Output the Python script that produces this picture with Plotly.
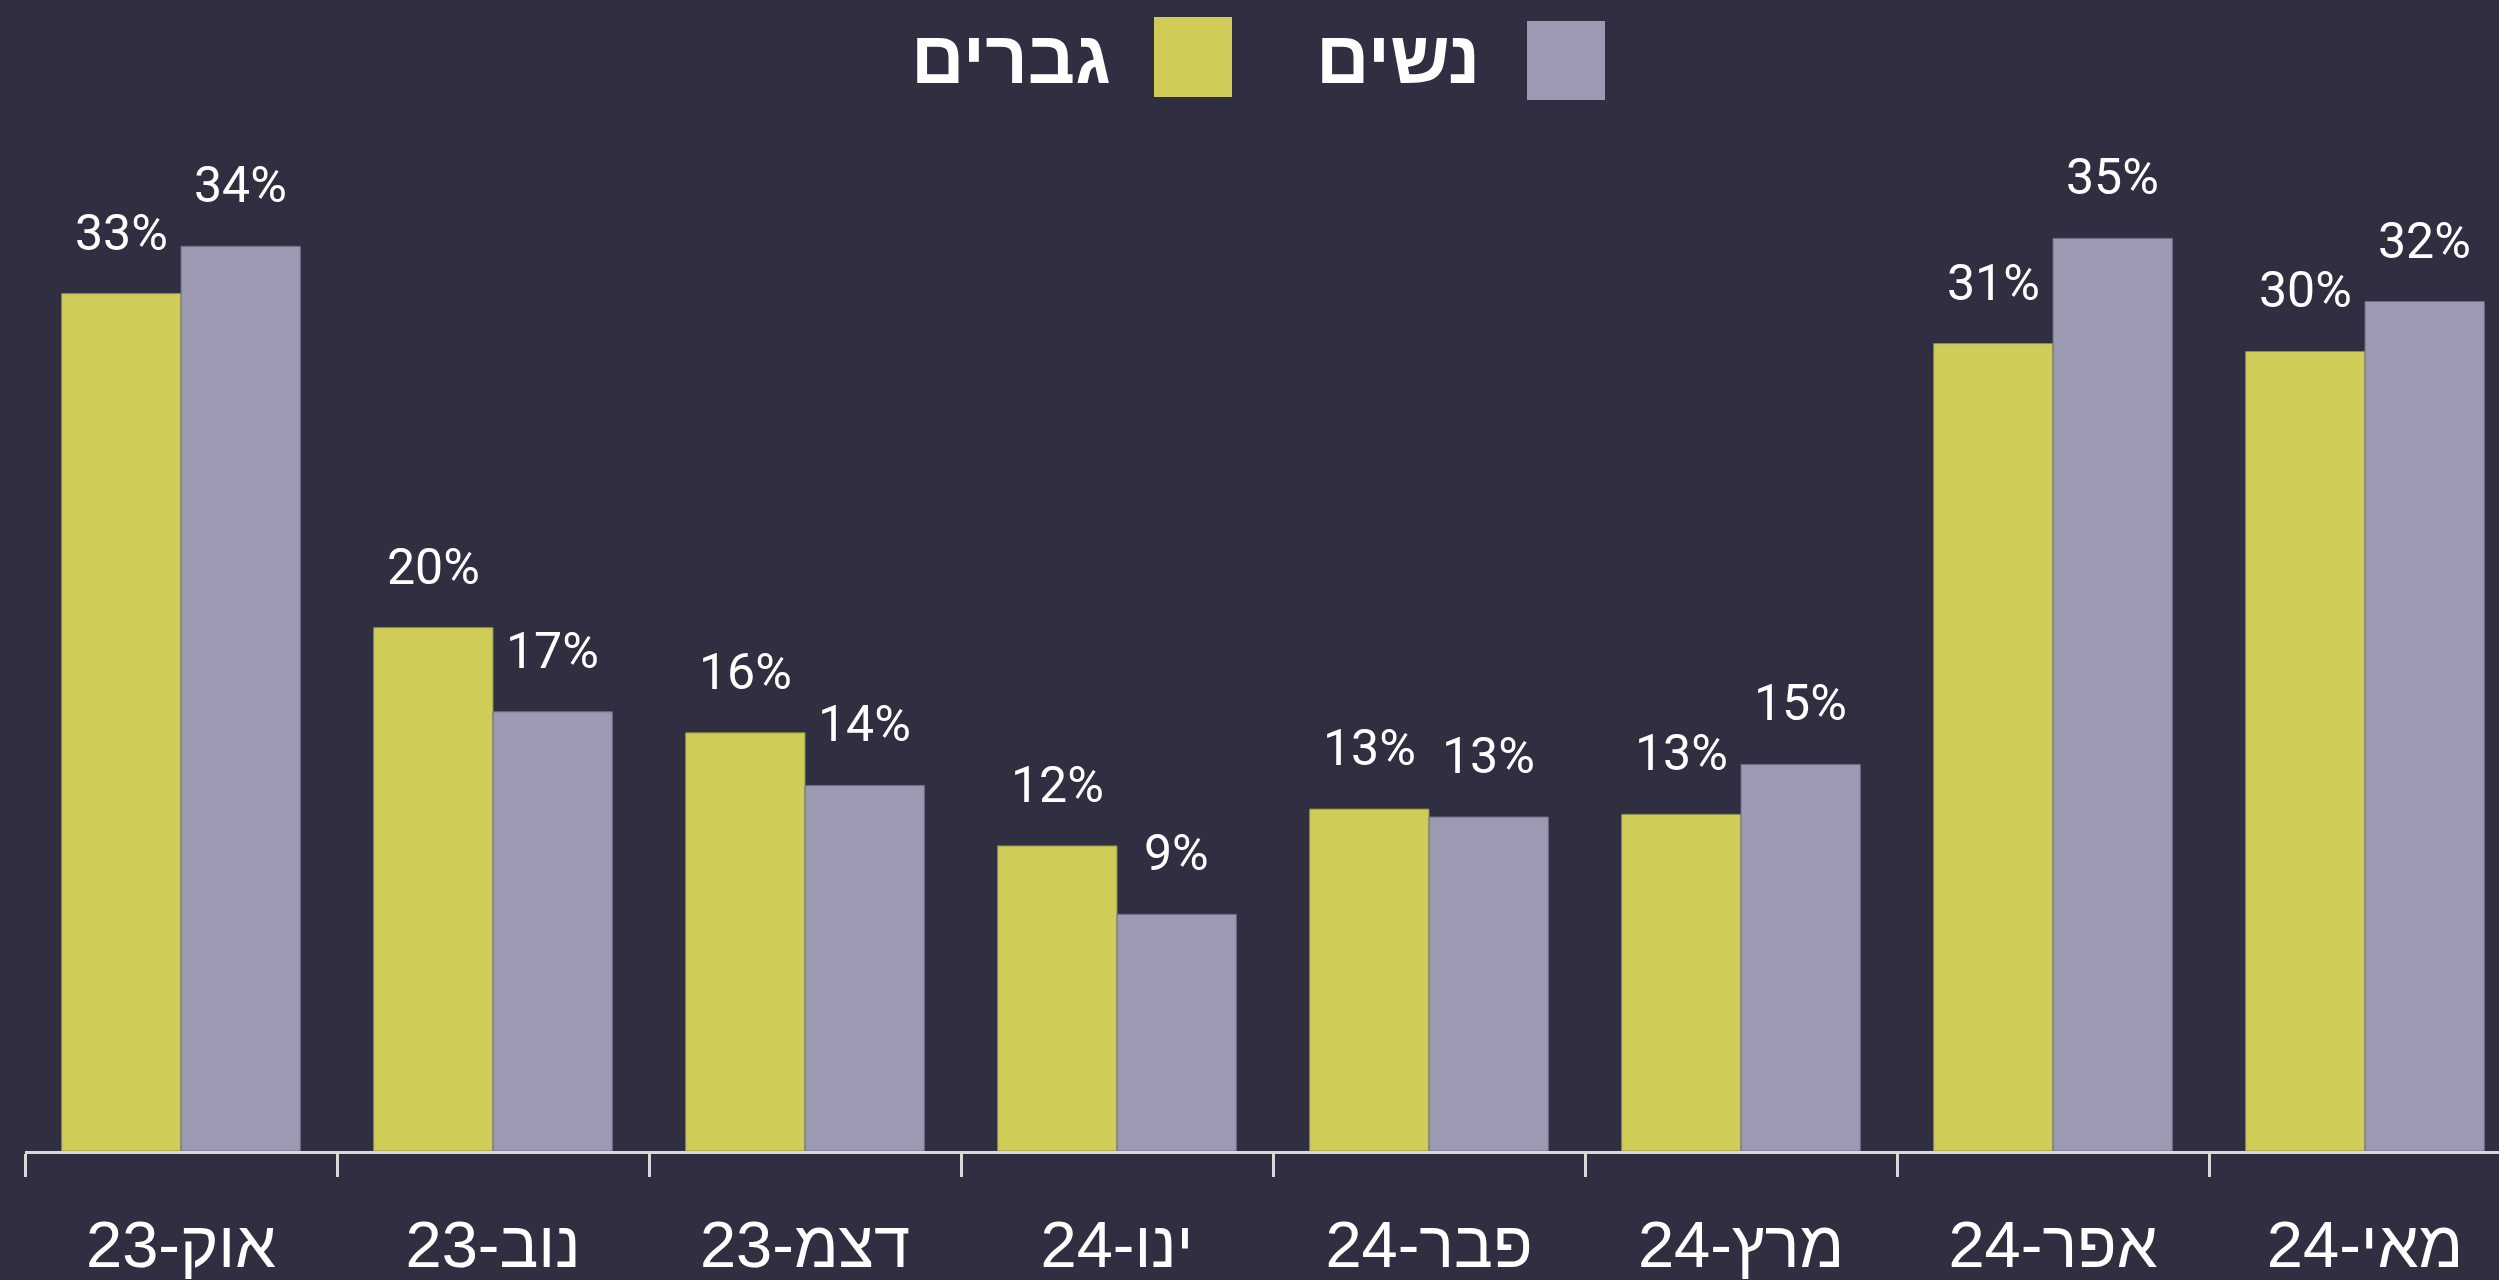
import plotly.graph_objects as go

categories = ["אוק-23", "נוב-23", "דצמ-23", "ינו-24", "פבר-24", "מרץ-24", "אפר-24", "מאי-24"]
men_values = [32.6, 19.9, 15.9, 11.6, 13.0, 12.8, 30.7, 30.4]
women_values = [34.4, 16.7, 13.9, 9.0, 12.7, 14.7, 34.7, 32.3]
men_name = "גברים"
women_name = "נשים"

BG = "#302f41"
YELLOW = "#cfcd58"
GREY = "#9c9ab2"
AXIS = "#d8d8d8"

W, H = 2499, 1280
ML, MR, MT, MB = 25, 0, 129, 129
cat_px = 312.0
plot_w = W - ML - MR
x_hi = -0.5 + plot_w / cat_px
px_per_unit = 26.3
y_hi = (H - MT - MB) / px_per_unit
bargap = 0.235
bar_px = cat_px * (1 - bargap) / 2

fig = go.Figure()
fig.add_trace(go.Bar(x=categories, y=men_values, name=men_name,
                     marker=dict(color=YELLOW, line=dict(color="#8f8d4a", width=1)),
                     showlegend=False))
fig.add_trace(go.Bar(x=categories, y=women_values, name=women_name,
                     marker=dict(color=GREY, line=dict(color="#6f6d86", width=1)),
                     showlegend=False))

annos = []
for vals, shift in ((men_values, -bar_px / 2), (women_values, bar_px / 2)):
    for c, v in zip(categories, vals):
        annos.append(dict(x=c, y=v, xref="x", yref="y", text=f"{round(v)}%",
                          showarrow=False, xshift=shift, yshift=30, yanchor="bottom",
                          font=dict(family="Roboto", size=50, color="white")))

# custom right-to-left legend
def px2paper_x(px):
    return (px - ML) / plot_w

def px2paper_y(py):
    return 1 - (py - MT) / (H - MT - MB)

shapes = []
legend_items = [(women_name, GREY, 1527, 1605, 21, 100, 1482),
                (men_name, YELLOW, 1154, 1232, 17, 97, 1113)]
for name, col, x0, x1, y0, y1, tx in legend_items:
    shapes.append(dict(type="rect", xref="paper", yref="paper",
                       x0=px2paper_x(x0), x1=px2paper_x(x1),
                       y0=px2paper_y(y1), y1=px2paper_y(y0),
                       fillcolor=col, line=dict(width=0)))
    annos.append(dict(x=px2paper_x(tx), y=px2paper_y(58), xref="paper", yref="paper",
                      text=f"<b>{name}</b>", showarrow=False, xanchor="right", yanchor="middle",
                      font=dict(family="Liberation Sans Narrow, Liberation Sans", size=74, color="white")))

fig.update_layout(
    width=W, height=H,
    paper_bgcolor=BG, plot_bgcolor=BG,
    margin=dict(l=ML, r=MR, t=MT, b=MB),
    barmode="group", bargap=bargap, bargroupgap=0,
    annotations=annos, shapes=shapes,
    xaxis=dict(range=[-0.5, x_hi], type="category", showgrid=False, zeroline=False,
               showline=True, linecolor=AXIS, linewidth=3,
               ticks="outside", tickson="boundaries", ticklen=23, tickwidth=3, tickcolor=AXIS,
               tickfont=dict(family="Liberation Sans Narrow, Liberation Sans", size=65, color="white"),
               ticklabelstandoff=35),
    yaxis=dict(range=[0, y_hi], visible=False, showgrid=False, zeroline=False),
)

fig.write_html("out.html")
